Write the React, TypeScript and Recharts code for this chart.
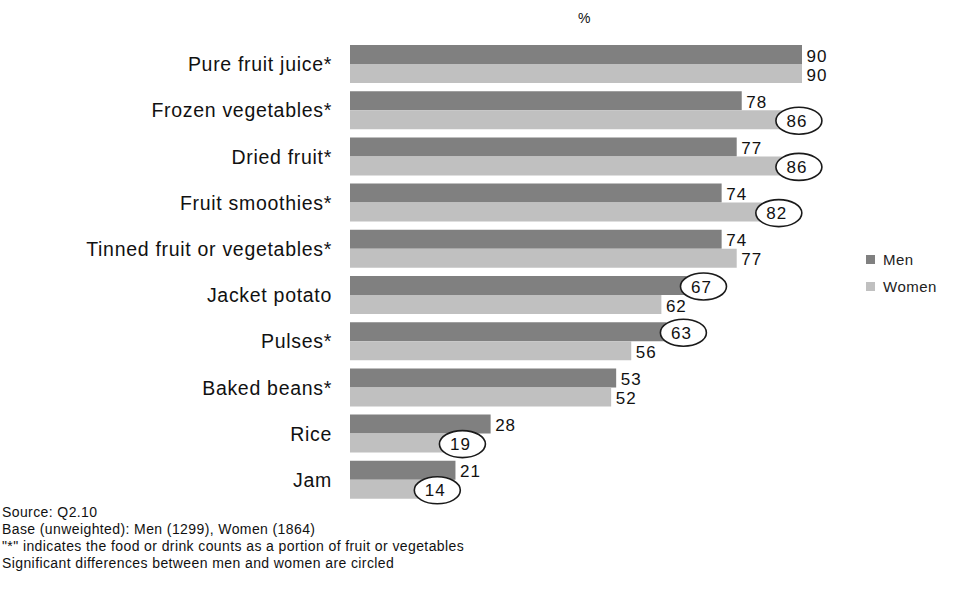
import React from "react";
import { BarChart, Bar, XAxis, YAxis, LabelList } from "recharts";

const categories = [
  "Pure fruit juice*",
  "Frozen vegetables*",
  "Dried fruit*",
  "Fruit smoothies*",
  "Tinned fruit or vegetables*",
  "Jacket potato",
  "Pulses*",
  "Baked beans*",
  "Rice",
  "Jam",
];
const men = [90, 78, 77, 74, 74, 67, 63, 53, 28, 21];
const women = [90, 86, 86, 82, 77, 62, 56, 52, 19, 14];
// significant differences (drawn circled)
const menCircled = [false, false, false, false, false, true, true, false, false, false];
const womenCircled = [false, true, true, true, false, false, false, false, true, true];

const notes = [
  "Source:  Q2.10",
  "Base (unweighted): Men (1299), Women (1864)",
  "\"*\" indicates the food or drink counts as a portion of fruit or vegetables",
  "Significant differences between men and women are circled",
];

const MEN_COLOR = "#808080";
const WOMEN_COLOR = "#c0c0c0";
const FONT = "Arial, 'Liberation Sans', sans-serif";

const data = categories.map((name, i) => ({
  name,
  Men: men[i],
  Women: women[i],
}));

const makeLabel = (circled: boolean[]) => (props: any) => {
  const { x, y, width, height, value, index } = props;
  const end = Number(x) + Number(width);
  const cy = Number(y) + Number(height) / 2;
  return (
    <g>
      {circled[index] && (
        <ellipse
          cx={end + 17}
          cy={cy + 1}
          rx={23}
          ry={13.5}
          fill="#fff"
          stroke="#1a1a1a"
          strokeWidth={1.6}
        />
      )}
      <text
        x={end + 15}
        y={cy + 1}
        dy="0.36em"
        textAnchor="middle"
        fontSize={17}
        letterSpacing={1}
        fontFamily={FONT}
        fill="#111"
      >
        {value}
      </text>
    </g>
  );
};

const CategoryTick = (props: any) => {
  const { y, payload } = props;
  return (
    <text
      x={332}
      y={y}
      dy="0.36em"
      textAnchor="end"
      fontSize={19.5}
      letterSpacing={0.7}
      fontFamily={FONT}
      fill="#111"
    >
      {payload.value}
    </text>
  );
};

const legendItems = [
  { label: "Men", color: MEN_COLOR },
  { label: "Women", color: WOMEN_COLOR },
];

export default function App() {
  return (
    <div
      style={{
        position: "absolute",
        left: 0,
        top: 0,
        width: 954,
        height: 598,
        background: "#fff",
        fontFamily: FONT,
      }}
    >
      <BarChart
        width={954}
        height={598}
        data={data}
        layout="vertical"
        margin={{ top: 41, right: 152, bottom: 95, left: 0 }}
        barGap={0}
      >
        <XAxis type="number" domain={[0, 90]} hide allowDataOverflow />
        <YAxis
          type="category"
          dataKey="name"
          width={350}
          axisLine={false}
          tickLine={false}
          tick={<CategoryTick />}
          interval={0}
        />
        <Bar dataKey="Men" fill={MEN_COLOR} barSize={19} isAnimationActive={false}>
          <LabelList dataKey="Men" content={makeLabel(menCircled)} />
        </Bar>
        <Bar dataKey="Women" fill={WOMEN_COLOR} barSize={19} isAnimationActive={false}>
          <LabelList dataKey="Women" content={makeLabel(womenCircled)} />
        </Bar>
      </BarChart>

      <div
        style={{
          position: "absolute",
          left: 578,
          top: 10,
          fontSize: 14,
          color: "#111",
        }}
      >
        %
      </div>

      <div style={{ position: "absolute", left: 866, top: 246 }}>
        {legendItems.map((item) => (
          <div
            key={item.label}
            style={{
              display: "flex",
              alignItems: "center",
              height: 27,
              fontSize: 15,
              color: "#222",
              letterSpacing: 0.5,
            }}
          >
            <span
              style={{
                display: "inline-block",
                width: 9,
                height: 9,
                background: item.color,
                marginRight: 8,
              }}
            />
            {item.label}
          </div>
        ))}
      </div>

      <div
        style={{
          position: "absolute",
          left: 2,
          top: 504,
          fontSize: 14,
          letterSpacing: 0.4,
          lineHeight: "17px",
          color: "#111",
        }}
      >
        {notes.map((n) => (
          <div key={n}>{n}</div>
        ))}
      </div>
    </div>
  );
}
